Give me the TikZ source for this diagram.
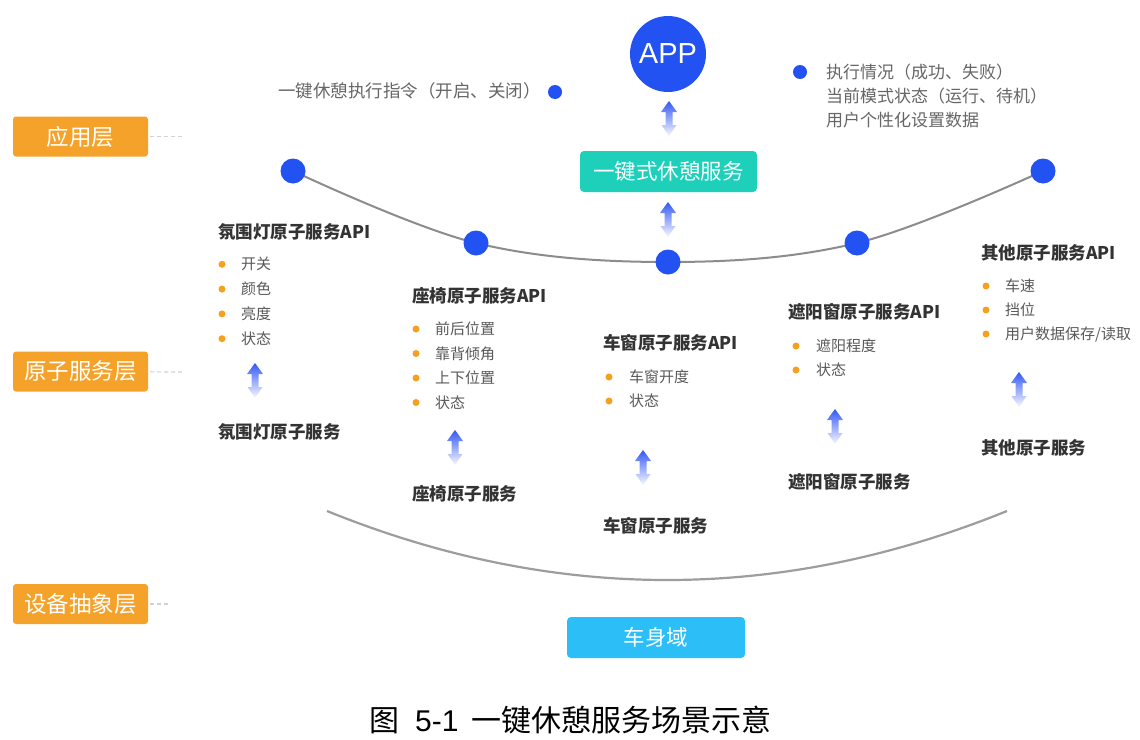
\documentclass[tikz,border=0pt]{standalone}
\usepackage{fontspec}
\setmainfont{Noto Sans CJK SC}
\newfontfamily\latinsans{Liberation Sans}
\definecolor{layerorange}{HTML}{F5A22A}
\definecolor{dotblue}{HTML}{2352F2}
\definecolor{arrowblue}{HTML}{3358F5}
\definecolor{svcteal}{HTML}{1ECFBA}
\definecolor{domainblue}{HTML}{2BBEF7}
\definecolor{bulletorange}{HTML}{F5A01E}
\definecolor{headgray}{HTML}{333333}
\definecolor{itemgray}{HTML}{595959}
\definecolor{infogray}{HTML}{666666}
\definecolor{arcgray}{HTML}{8C8C8C}
\tikzset{
  layerbox/.style={fill=layerorange, rounded corners=3pt, minimum width=135pt, minimum height=40pt, text=white, font=\fontsize{22.5}{22.5}\selectfont, inner sep=0pt},
  guide/.style={draw=gray!35, line width=1.2pt, dash pattern=on 4pt off 3pt, shorten <=2pt},
  bluedot/.style={circle, fill=dotblue, minimum size=25pt, inner sep=0pt},
  smalldot/.style={circle, fill=dotblue, minimum size=14pt, inner sep=0pt},
  heading/.style={anchor=west, text=headgray, font=\fontsize{17.5}{17.5}\selectfont\bfseries, inner sep=0pt},
  itemtext/.style={anchor=west, text=itemgray, font=\fontsize{15}{15}\selectfont, inner sep=0pt},
  bul/.style={circle, fill=bulletorange, minimum size=7pt, inner sep=0pt},
  infotext/.style={text=infogray, font=\fontsize{17}{24}\selectfont, inner sep=0pt},
  svcbox/.style={rounded corners=4pt, minimum width=177pt, minimum height=41pt, text=white, font=\fontsize{21.5}{21.5}\selectfont, inner sep=0pt},
  updown/.pic={
    \shade[top color=arrowblue, middle color=arrowblue!40, bottom color=arrowblue!4]
      (0,0) -- (8,11) -- (3.5,11) -- (3.5,24) -- (7.5,24) -- (0,35) -- (-7.5,24) -- (-3.5,24) -- (-3.5,11) -- (-8,11) -- cycle;
  }
}
\begin{document}
\begin{tikzpicture}[x=1pt, y=-1pt]
\fill[white] (0,0) rectangle (1140,739);
\useasboundingbox (0,0) rectangle (1140,739);

% layer labels
\node[layerbox] (L1) at (80.5,136.5) {应用层};
\node[layerbox] (L2) at (80.5,371.5) {原子服务层};
\node[layerbox] (L3) at (80.5,604) {设备抽象层};
\coordinate (L1d) at (183,136.5);
\coordinate (L2d) at (183,372);
\coordinate (L3d) at (168,604);
\draw[guide] (L1) -- (L1d);
\draw[guide] (L2) -- (L2d);
\draw[guide] (L3) -- (L3d);

% APP and service
\node[circle, fill=dotblue, minimum size=76pt, inner sep=0pt, text=white, font=\latinsans\fontsize{29}{29}\selectfont] (app) at (668,54) {APP};
\pic (ar0) at (669,101) {updown};
\node[svcbox, fill=svcteal] (svc) at (668.5,171.5) {一键式休憩服务};
\pic (ar00) at (668,202) {updown};

% info texts
\node[smalldot] (i1) at (555,92) {};
\node[infotext, anchor=east, font=\fontsize{17.5}{24}\selectfont] (t1) at (541,91) {一键休憩执行指令（开启、关闭）};
\node[smalldot] (i2) at (800,72) {};
\node[infotext, anchor=north west, align=left] (t2) at (826,64) {执行情况（成功、失败）\\当前模式状态（运行、待机）\\用户个性化设置数据};

% upper arc
\coordinate (c1) at (293,171);
\coordinate (c2) at (476,243);
\coordinate (c3) at (668,262);
\coordinate (c4) at (857,243);
\coordinate (c5) at (1043,171);
\draw[arcgray, line width=2pt] plot[smooth, tension=0.6] coordinates {(c1) (c2) (c3) (c4) (c5)};
\foreach \i in {1,...,5} { \node[bluedot] (d\i) at (c\i) {}; }

% column 1
\node[heading] (h1) at (218,232) {氛围灯原子服务API};
\foreach \t [count=\i] in {开关,颜色,亮度,状态} {
  \node[bul] (b1\i) at (222,{239.5+24.8*\i}) {};
  \node[itemtext] (x1\i) at (241,{239.5+24.8*\i}) {\t};
}
\pic (ar1) at (255,363) {updown};
\node[heading] (s1) at (218,432) {氛围灯原子服务};

% column 2
\node[heading] (h2) at (412,296) {座椅原子服务API};
\foreach \t [count=\i] in {前后位置,靠背倾角,上下位置,状态} {
  \node[bul] (b2\i) at (416,{304.5+24.5*\i}) {};
  \node[itemtext] (x2\i) at (435,{304.5+24.5*\i}) {\t};
}
\pic (ar2) at (455,430) {updown};
\node[heading] (s2) at (412,494) {座椅原子服务};

% column 3
\node[heading] (h3) at (603,343) {车窗原子服务API};
\foreach \t [count=\i] in {车窗开度,状态} {
  \node[bul] (b3\i) at (609,{353+24*\i}) {};
  \node[itemtext] (x3\i) at (629,{353+24*\i}) {\t};
}
\pic (ar3) at (643,450) {updown};
\node[heading] (s3) at (603,526) {车窗原子服务};

% column 4
\node[heading] (h4) at (788,312) {遮阳窗原子服务API};
\foreach \t [count=\i] in {遮阳程度,状态} {
  \node[bul] (b4\i) at (796,{322+24*\i}) {};
  \node[itemtext] (x4\i) at (816,{322+24*\i}) {\t};
}
\pic (ar4) at (835,409) {updown};
\node[heading] (s4) at (788,482) {遮阳窗原子服务};

% column 5
\node[heading] (h5) at (981,253) {其他原子服务API};
\foreach \t [count=\i] in {车速,挡位,用户数据保存/读取} {
  \node[bul] (b5\i) at (986,{262+24*\i}) {};
  \node[itemtext] (x5\i) at (1005,{262+24*\i}) {\t};
}
\pic (ar5) at (1019,372) {updown};
\node[heading] (s5) at (981,448) {其他原子服务};

% lower arc
\coordinate (e1) at (327,511);
\coordinate (e2) at (1007,511);
\draw[arcgray!85, line width=2.2pt] (e1) .. controls (554,603) and (780,603) .. (e2);

% body domain
\node[svcbox, fill=domainblue, minimum width=178pt] (body) at (656,637.5) {车身域};

% caption
\node[anchor=west, inner sep=0pt, font=\fontsize{30}{30}\selectfont] (cap) at (369,720) {图\hspace{16pt}{\latinsans 5-1}\hspace{13pt}一键休憩服务场景示意};
\end{tikzpicture}
\end{document}
